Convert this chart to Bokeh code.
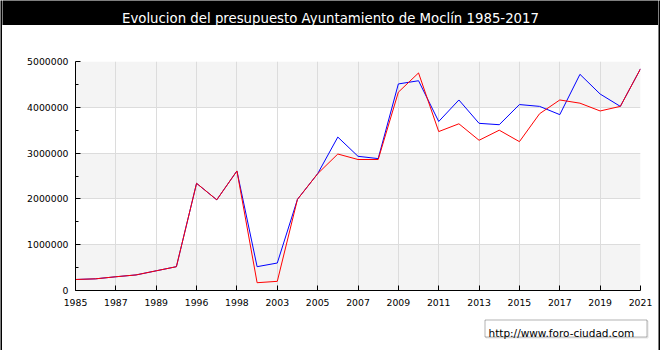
from bokeh.plotting import figure
from bokeh.layouts import row, column
from bokeh.models import (FixedTicker, BasicTickFormatter, BoxAnnotation, Label,
                          Range1d, ColumnDataSource)
from bokeh.embed import file_html
from bokeh.resources import INLINE

# ---- data ----
years = ["1985", "1986", "1987", "1988", "1989", "1990", "1996", "1997", "1998",
         "2002", "2003", "2004", "2005", "2006", "2007", "2008", "2009", "2010",
         "2011", "2012", "2013", "2014", "2015", "2016", "2017", "2018", "2019",
         "2020", "2021"]
ingresos = [240000, 255000, 300000, 340000, 430000, 520000, 2340000, 1980000, 2610000,
            520000, 600000, 1990000, 2550000, 3350000, 2930000, 2880000, 4510000, 4580000,
            3690000, 4160000, 3650000, 3620000, 4060000, 4020000, 3840000, 4720000, 4290000,
            4020000, 4840000]
gastos = [240000, 255000, 300000, 340000, 430000, 520000, 2340000, 1980000, 2610000,
          170000, 200000, 1990000, 2550000, 2980000, 2860000, 2860000, 4330000, 4750000,
          3470000, 3640000, 3280000, 3500000, 3250000, 3860000, 4160000, 4090000, 3920000,
          4020000, 4840000]
y_ticks = [0, 1000000, 2000000, 3000000, 4000000, 5000000]
title_text = "Evolucion del presupuesto Ayuntamiento de Moclín 1985-2017"
watermark = "http://www.foro-ciudad.com"

FONT = "DejaVu Sans"
W, H = 660, 350
B = 2                 # outer border thickness
CW = W - 2 * B        # inner width
TOP_H = 25            # title bar height
MAIN_H = 287          # main chart figure height
BOT_H = H - TOP_H - MAIN_H - B


def plain(width, height, color):
    f = figure(width=width, height=height, output_backend="svg", toolbar_location=None,
               x_axis_type=None, y_axis_type=None, min_border=0, frame_align=False,
               x_range=Range1d(0, 1), y_range=Range1d(0, 1),
               background_fill_color=color, border_fill_color=color,
               outline_line_color=None)
    f.grid.visible = False
    return f


# ---- title bar ----
top = plain(CW, TOP_H, "black")
top.add_layout(Label(x=CW / 2, y=7, x_units="screen", y_units="screen",
                     text=title_text, text_color="white", text_font=FONT,
                     text_font_size="13.3px", text_align="center",
                     text_baseline="alphabetic"))

# ---- main chart ----
idx = list(range(len(years)))
src = ColumnDataSource(dict(x=idx, ing=ingresos, gas=gastos))

p = figure(width=CW, height=MAIN_H, output_backend="svg", toolbar_location=None,
           x_range=Range1d(0, len(years) - 1), y_range=Range1d(0, 5000000),
           min_border_left=75 - B, min_border_right=W - B - 640,
           min_border_top=61 - TOP_H, min_border_bottom=TOP_H + MAIN_H - 290,
           frame_align=False,
           background_fill_color="white", border_fill_color="white",
           outline_line_color=None)

for k in range(0, len(y_ticks) - 1, 2):
    p.add_layout(BoxAnnotation(bottom=y_ticks[k], top=y_ticks[k + 1],
                               fill_color="#f4f4f4", fill_alpha=1, line_color=None,
                               level="image"))

p.xgrid.ticker = FixedTicker(ticks=idx[::2])
p.ygrid.ticker = FixedTicker(ticks=y_ticks)
for g in (p.xgrid, p.ygrid):
    g.grid_line_color = "#dcdcdc"
    g.grid_line_width = 1

xa = p.xaxis[0]
xa.ticker = FixedTicker(ticks=idx[::2])
xa.major_label_overrides = {i: years[i] for i in idx[::2]}
xa.major_tick_in = 5
xa.major_tick_out = 0
xa.minor_tick_line_color = None
xa.major_label_standoff = 8
xa.axis_line_color = "black"
xa.major_tick_line_color = "black"
xa.major_label_text_font = FONT
xa.major_label_text_font_size = "9.3px"
xa.major_label_text_color = "black"

ya = p.yaxis[0]
ya.ticker = FixedTicker(ticks=y_ticks, minor_ticks=[500000, 1500000, 2500000, 3500000, 4500000])
ya.formatter = BasicTickFormatter(use_scientific=False)
ya.major_tick_in = 5
ya.major_tick_out = 0
ya.minor_tick_in = 3
ya.minor_tick_out = 0
ya.major_label_standoff = 7
ya.axis_line_color = "black"
ya.major_tick_line_color = "black"
ya.minor_tick_line_color = "black"
ya.major_label_text_font = FONT
ya.major_label_text_font_size = "9.3px"
ya.major_label_text_color = "black"

p.line("x", "ing", source=src, line_color="#0000ff", line_width=1)
p.line("x", "gas", source=src, line_color="#ff0000", line_width=1)

# ---- bottom area with watermark ----
bot = plain(CW, BOT_H, "white")
bot_top = TOP_H + MAIN_H  # canvas y of this strip's top


def by(cy):
    return BOT_H - (cy - bot_top)


bot.add_layout(BoxAnnotation(left=485.5 - B, right=647.5 - B, top=by(320.5), bottom=by(337.5),
                             left_units="screen", right_units="screen",
                             top_units="screen", bottom_units="screen",
                             fill_alpha=0, line_color="#a0a0a0", line_width=1))
bot.add_layout(BoxAnnotation(left=484.5 - B, right=646.5 - B, top=by(319.5), bottom=by(336.5),
                             left_units="screen", right_units="screen",
                             top_units="screen", bottom_units="screen",
                             fill_color="white", fill_alpha=1, line_color="black",
                             line_width=1))
bot.add_layout(Label(x=488 - B, y=by(332), x_units="screen", y_units="screen",
                     text=watermark, text_color="black", text_font=FONT,
                     text_font_size="10.5px", text_align="left",
                     text_baseline="alphabetic"))

bottom_border = plain(CW, B, "black")
left_border = plain(B, H, "black")
right_border = plain(B, H, "black")

layout = row(left_border, column(top, p, bot, bottom_border, spacing=0), right_border,
             spacing=0)

open("out.html", "w").write(file_html(layout, INLINE))
